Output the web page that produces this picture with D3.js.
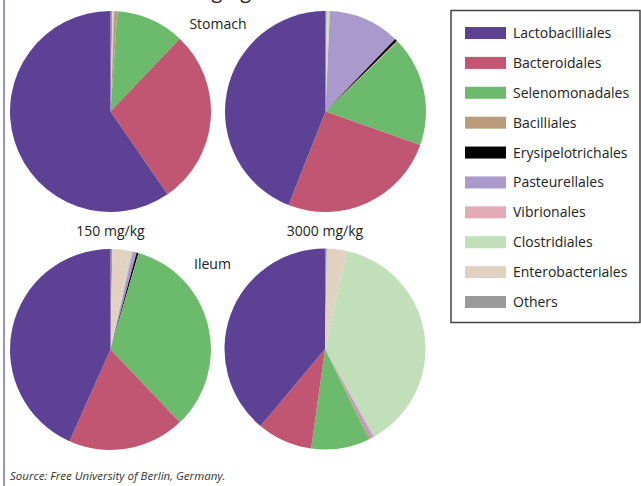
<!DOCTYPE html>
<html>
<head>
<meta charset="utf-8">
<script src="https://cdn.jsdelivr.net/npm/d3@7"></script>
<style>
  html, body { margin: 0; padding: 0; background: #fff; }
  svg { display: block; font-family: "Open Sans", sans-serif; }
</style>
</head>
<body>
<svg id="chart" width="641" height="486"></svg>
<script>
const categories = ["Lactobacilliales", "Bacteroidales", "Selenomonadales", "Bacilliales",
  "Erysipelotrichales", "Pasteurellales", "Vibrionales", "Clostridiales", "Enterobacteriales", "Others"];
const colors = ["#5c4194", "#c05672", "#6cba6b", "#bb9b7b", "#000000",
  "#a99acb", "#e3abb6", "#c1dfb9", "#e0d1c1", "#9a9a9a"];

// percent shares, in legend order
const stomach150  = [59.6, 28.3, 11.0, 0.5, 0.0, 0.0, 0.1, 0.0, 0.2, 0.3];
const stomach3000 = [44.0, 25.6, 17.6, 0.2, 0.4, 11.5, 0.0, 0.3, 0.2, 0.2];
const ileum150    = [43.3, 18.8, 33.4, 0.0, 0.3, 0.6, 0.2, 0.3, 2.8, 0.3];
const ileum3000   = [38.9, 8.9, 9.4, 0.3, 0.0, 0.4, 0.3, 38.3, 3.2, 0.3];

const doseLabels = ["150 mg/kg", "3000 mg/kg"];
const sectionLabels = ["Stomach", "Ileum"];
const sourceText = "Source: Free University of Berlin, Germany.";

const svg = d3.select("#chart");

// left border line
svg.append("line").attr("x1", 4).attr("x2", 4).attr("y1", 0).attr("y2", 486)
  .attr("stroke", "#9d92b9").attr("stroke-width", 2);

// cut-off title fragment at top (only descenders visible in the reference)
svg.append("text").attr("x", 222).attr("y", -2).attr("text-anchor", "middle")
  .attr("font-size", 20).attr("fill", "#222").text("mg/kg");

const pies = [
  {data: stomach150, cx: 110.5, cy: 111.5},
  {data: stomach3000, cx: 325.5, cy: 111.5},
  {data: ileum150, cx: 110.5, cy: 349.5},
  {data: ileum3000, cx: 325, cy: 349}
];
const r = 100.5;
const pie = d3.pie().sort(null).value(d => d.v);
const arc = d3.arc().innerRadius(0).outerRadius(r);

pies.forEach(p => {
  const rows = categories.map((c, i) => ({c, v: p.data[i], col: colors[i]})).reverse();
  const g = svg.append("g").attr("transform", `translate(${p.cx},${p.cy})`);
  g.selectAll("path").data(pie(rows)).join("path")
    .attr("d", arc).attr("fill", d => d.data.col);
});

// labels
svg.append("text").attr("x", 218).attr("y", 29).attr("text-anchor", "middle")
  .attr("font-size", 14).attr("fill", "#222").text(sectionLabels[0]);
svg.append("text").attr("x", 212.5).attr("y", 269).attr("text-anchor", "middle")
  .attr("font-size", 14).attr("fill", "#222").text(sectionLabels[1]);
svg.append("text").attr("x", 110.5).attr("y", 236).attr("text-anchor", "middle")
  .attr("font-size", 14).attr("fill", "#222").text(doseLabels[0]);
svg.append("text").attr("x", 325).attr("y", 236).attr("text-anchor", "middle")
  .attr("font-size", 14).attr("fill", "#222").text(doseLabels[1]);

// legend
const lg = svg.append("g");
lg.append("rect").attr("x", 451).attr("y", 10.5).attr("width", 189).attr("height", 312)
  .attr("fill", "#fff").attr("stroke", "#444").attr("stroke-width", 1.5);
const ly = d3.scalePoint().domain(categories).range([33, 302]);
categories.forEach((c, i) => {
  lg.append("rect").attr("x", 465).attr("y", ly(c) - 6).attr("width", 41).attr("height", 12)
    .attr("fill", colors[i]);
  lg.append("text").attr("x", 513).attr("y", ly(c) + 5).attr("font-size", 14)
    .attr("fill", "#222").text(c);
});

// source
svg.append("text").attr("x", 10).attr("y", 480).attr("font-size", 11.5)
  .attr("font-style", "italic").attr("fill", "#333").text(sourceText);
</script>
</body>
</html>
